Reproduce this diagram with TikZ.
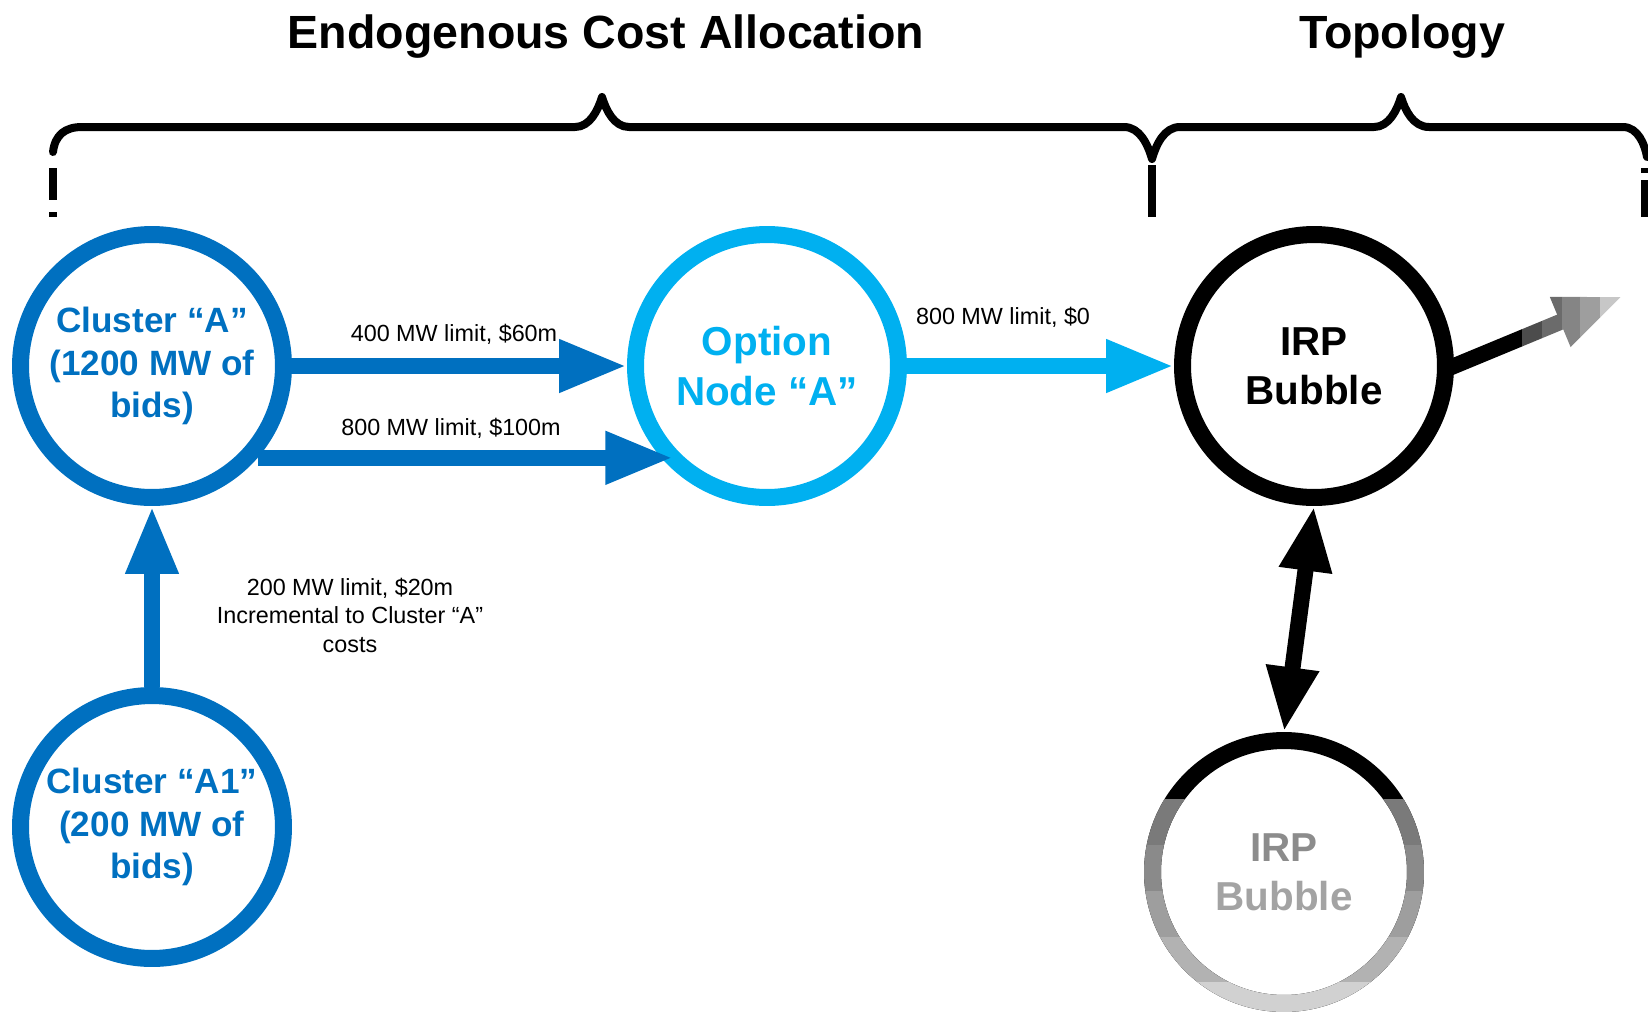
\documentclass[tikz,border=0pt]{standalone}
\usepackage{fontspec}
\setmainfont{Liberation Sans}
\usetikzlibrary{arrows.meta}
\definecolor{clusterblue}{RGB}{0,112,192}
\definecolor{optionblue}{RGB}{0,176,240}

\begin{document}
\begin{tikzpicture}[
  x=0.02cm, y=-0.02cm,
  bubble/.style={
    draw=#1,
    circle,
    line width=0.34cm,
    minimum size=5.26cm,
    inner sep=0pt,
    align=center,
    text=#1,
    font=\fontsize{20}{24}\selectfont\bfseries
  },
  bigtext/.style={font=\fontsize{23}{28}\selectfont\bfseries},
  fatarrow/.style={
    line width=0.32cm,
    -{Triangle[length=1.36cm,width=0.98cm]}
  },
  twoway/.style={
    line width=0.32cm,
    {Triangle[length=1.3cm,width=0.98cm]}-{Triangle[length=1.3cm,width=0.98cm]}
  },
  limit/.style={font=\fontsize{13.3}{16.2}\selectfont, align=center},
  heading/.style={font=\fontsize{26.5}{30}\selectfont\bfseries},
  bracket/.style={line width=0.16cm, line cap=round, line join=round}
]
\useasboundingbox (0,0) rectangle (1648,1011);

% Headings
\node[heading] (ecatitle) at (606,37) {Endogenous Cost Allocation};
\node[heading] (topotitle) at (1402,37) {Topology};

% Braces under the headings
\draw[bracket] (53,152) .. controls (55,135) and (65,127) .. (82,127)
  -- (575,127) .. controls (590,127) and (598,110) .. (602,97)
  .. controls (606,110) and (614,127) .. (629,127)
  -- (1124,127) .. controls (1140,127) and (1148,145) .. (1152,159)
  .. controls (1156,145) and (1164,127) .. (1180,127)
  -- (1374,127) .. controls (1389,127) and (1397,110) .. (1401,97)
  .. controls (1405,110) and (1413,127) .. (1429,127)
  -- (1623,127) .. controls (1638,127) and (1645,145) .. (1647,157);
\draw[line width=0.16cm] (53,168) -- (53,200) (53,212) -- (53,217);
\draw[line width=0.16cm] (1152,165) -- (1152,217);
\draw[line width=0.16cm] (1645,168) -- (1645,173) (1645,180) -- (1645,217);

% Clusters and option node
\node[bubble=clusterblue] (ca) at (152,366)
{Cluster “A”\\(1200 MW of\\bids)};
\node[bubble=clusterblue] (ca1) at (152,827)
{Cluster “A1”\\(200 MW of\\bids)};
\node[bubble=optionblue, bigtext] (opt) at (767,366)
{Option\\Node “A”};

% IRP bubbles
\node[bubble=black, bigtext] (irp) at (1314,366) {IRP\\Bubble};
\node[bubble=black, bigtext] (irp2) at (1284,872)
{{\color{black!45}IRP}\\{\color{black!36}Bubble}};
\foreach \ya/\yb/\col in {799/845/black!52, 845/891/black!46, 891/937/black!38,
  937/982/black!30, 982/1020/black!18} {
  \begin{scope}
    \clip (1100,\ya) rectangle (1470,\yb);
    \draw[line width=0.34cm, \col] (irp2.center) circle (2.63cm);
  \end{scope}
}

% Connections
\draw[fatarrow, clusterblue] (ca) -- (opt);
\draw[fatarrow, clusterblue, shorten >=-0.24cm] (ca.-41) -- (opt.221);
\draw[fatarrow, clusterblue] (ca1) -- (ca);
\draw[fatarrow, optionblue] (opt) -- (irp);
\draw[twoway, black] (irp.south) -- (irp2.north);

% Arrow out of the IRP bubble, fading out
\coordinate (exit) at (1623,296);
\foreach \xa/\xb/\col in {1440/1522/black, 1522/1542/black!70, 1542/1562/black!58,
  1562/1580/black!48, 1580/1600/black!38, 1600/1640/black!22} {
  \begin{scope}
    \clip (\xa,250) rectangle (\xb,400);
    \draw[fatarrow, \col, shorten <=-0.2cm] (irp.east) -- (exit);
  \end{scope}
}

% Limits
\node[limit] (lim60) at (454,334) {400 MW limit, \$60m};
\node[limit] (lim100) at (451,428) {800 MW limit, \$100m};
\node[limit] (lim0) at (1003,317) {800 MW limit, \$0};
\node[limit] (lim20) at (350,615)
{200 MW limit, \$20m\\Incremental to Cluster “A”\\costs};

\end{tikzpicture}
\end{document}
